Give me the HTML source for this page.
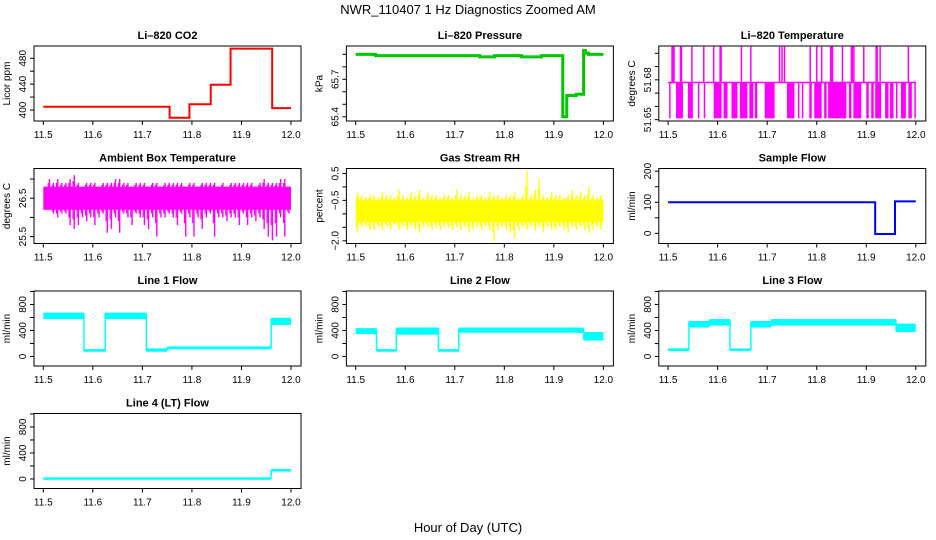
<!DOCTYPE html>
<html><head><meta charset="utf-8"><style>
html,body{margin:0;padding:0;background:#fff}
svg{display:block;font-family:"Liberation Sans",sans-serif}
</style></head><body>
<svg id="chart" width="936" height="540" viewBox="0 0 936 540" xmlns="http://www.w3.org/2000/svg">
<text x="468" y="14" text-anchor="middle" font-size="13">NWR_110407  1 Hz Diagnostics Zoomed AM</text>
<text x="468" y="532" text-anchor="middle" font-size="13">Hour of Day (UTC)</text>
</svg>
<script>
const xTicks = [11.5, 11.6, 11.7, 11.8, 11.9, 12.0];
const xTickLabels = ["11.5", "11.6", "11.7", "11.8", "11.9", "12.0"];
// CO2 steps: [start, end, value]
const co2Start = [11.5, 11.755, 11.795, 11.838, 11.878, 11.962];
const co2End = [11.755, 11.795, 11.838, 11.878, 11.962, 12.0];
const co2Val = [405, 388, 409, 439, 495, 403];
const presStart = [11.5, 11.54, 11.75, 11.78, 11.835, 11.875, 11.918, 11.926, 11.945, 11.96, 11.964, 11.97];
const presEnd = [11.54, 11.75, 11.78, 11.835, 11.875, 11.918, 11.926, 11.945, 11.96, 11.964, 11.97, 12.0];
const presVal = [65.9, 65.89, 65.88, 65.89, 65.88, 65.89, 65.4, 65.57, 65.58, 65.93, 65.91, 65.9];
const tempBase = [51.678];
const tempUp = [11.508,11.51,11.512,11.525,11.527,11.548,11.572,11.592,11.605,11.607,11.648,11.667,11.725,11.73,11.735,11.787,11.8,11.81,11.828,11.83,11.832,11.852,11.87,11.872,11.875,11.895,11.92,11.922,11.928,11.985];
const tempUpVal = [51.705];
const tempDownStart = [11.502,11.516,11.54,11.56,11.572,11.592,11.612,11.628,11.645,11.664,11.675,11.695,11.74,11.762,11.77,11.785,11.795,11.815,11.823,11.865,11.874,11.9,11.91,11.918,11.938,11.948,11.96,11.97,11.985,11.997];
const tempDownEnd = [11.504,11.53,11.55,11.562,11.573,11.608,11.62,11.64,11.66,11.672,11.68,11.715,11.755,11.765,11.772,11.79,11.81,11.82,11.86,11.87,11.89,11.905,11.915,11.93,11.945,11.955,11.962,11.98,11.992,11.999];
const tempDownVal = [51.651];
const ambCore = [26.2, 26.8];
const ambHi = [26.8,27.0,26.9,27.0,26.9,26.9,27.0,27.1,26.9,26.8,26.9,26.9,26.9,26.8,26.9,26.9,26.9,27.0,27.0,26.9,26.9,26.8,26.9,26.9,26.9,26.8,26.9,26.9,26.8,26.9,26.9,26.9,26.9,26.9,26.8,26.9,26.9,26.8,26.9,26.9,26.9,26.9,26.8,26.9,26.8,26.9,26.9,26.9,26.9,26.9,26.9,26.8,26.9,27.0,26.9,26.9,26.9,27.0,27.0,26.8];
const ambLo = [26.2,26.2,26.1,26.0,26.1,26.1,25.8,25.7,25.8,26.0,25.9,26.0,25.8,26.0,26.1,25.6,25.7,26.0,25.6,26.1,26.0,25.8,26.1,26.0,25.8,25.7,26.0,25.5,26.0,26.0,26.1,26.0,25.8,26.1,25.5,26.0,25.5,26.0,25.7,26.0,26.1,25.5,26.0,26.0,25.9,26.0,26.0,25.8,26.1,25.8,26.0,25.9,26.0,25.7,25.5,25.4,25.5,26.0,25.5,26.1];
const rhCore = [-1.3, -0.5];
const rhHi = [-0.2,-0.3,-0.4,-0.3,-0.3,-0.4,-0.2,-0.3,-0.3,-0.4,-0.1,-0.3,-0.4,-0.2,-0.3,-0.1,-0.4,-0.2,-0.3,-0.3,-0.4,-0.3,-0.3,-0.4,-0.1,-0.3,-0.3,-0.2,-0.4,-0.3,-0.3,-0.4,-0.2,-0.3,-0.3,-0.4,-0.3,-0.3,-0.2,-0.4,-0.3,0.6,-0.3,-0.1,0.3,-0.3,-0.4,-0.2,-0.3,-0.3,-0.4,-0.3,-0.1,-0.3,-0.2,-0.3,0.0,-0.3,-0.4,-0.3];
const rhLo = [-1.7,-1.5,-1.5,-1.6,-1.6,-1.5,-1.6,-1.5,-1.6,-1.4,-1.6,-1.5,-1.6,-1.5,-1.6,-1.7,-1.5,-1.5,-1.6,-1.5,-1.6,-1.5,-1.5,-1.6,-1.5,-1.6,-1.5,-1.7,-1.6,-1.5,-1.6,-1.5,-1.6,-2.0,-1.6,-1.5,-1.6,-1.7,-1.9,-1.6,-1.5,-1.6,-1.5,-1.6,-1.5,-1.7,-1.5,-1.6,-1.6,-1.5,-1.6,-1.7,-1.5,-1.6,-1.5,-1.6,-1.7,-1.6,-1.5,-1.6];
const sfStart = [11.5, 11.918, 11.958];
const sfEnd = [11.918, 11.958, 12.0];
const sfVal = [100, -2, 103];
const l1Start = [11.5, 11.582, 11.625, 11.708, 11.75, 11.96];
const l1End = [11.582, 11.625, 11.708, 11.75, 11.96, 12.0];
const l1Lo = [590, 88, 590, 88, 125, 500];
const l1Hi = [660, 98, 660, 110, 140, 580];
const l2Start = [11.5, 11.542, 11.582, 11.667, 11.708, 11.96];
const l2End = [11.542, 11.582, 11.667, 11.708, 11.96, 12.0];
const l2Lo = [360, 88, 350, 88, 380, 260];
const l2Hi = [420, 98, 430, 98, 430, 360];
const l3Start = [11.5, 11.542, 11.583, 11.625, 11.667, 11.708, 11.96];
const l3End = [11.542, 11.583, 11.625, 11.667, 11.708, 11.96, 12.0];
const l3Lo = [98, 460, 490, 98, 460, 490, 390];
const l3Hi = [110, 530, 560, 108, 530, 560, 490];
const l4Start = [11.5, 11.96];
const l4End = [11.96, 12.0];
const l4Lo = [3, 128];
const l4Hi = [10, 140];

const NS = "http://www.w3.org/2000/svg";
const svg = document.getElementById('chart');
function mk(tag, attrs, parent) {
  const e = document.createElementNS(NS, tag);
  for (const k in attrs) e.setAttribute(k, attrs[k]);
  (parent || svg).appendChild(e);
  return e;
}
function panel(col, row, name, title, ylab, ymin, ymax, yticks, ylabels) {
  const L = 34 + col * 312.4, R = 301 + col * 312.4;
  const T = 46 + row * 122.5, B = 121 + row * 122.5;
  const x0 = 43.3 + col * 312.4, x1 = 291 + col * 312.4;
  const g = mk('g', {});
  
  
  const sx = v => x0 + (v - 11.5) / 0.5 * (x1 - x0);
  const sy = v => B - (v - ymin) / (ymax - ymin) * (B - T);
  const t = mk('text', {x: (L + R) / 2, y: T - 7, 'text-anchor': 'middle', 'font-size': 11, 'font-weight': 'bold'}, g);
  
  
  t.textContent = title;
  const yl = mk('text', {x: 0, y: 0, 'text-anchor': 'middle', 'font-size': 10, transform: `translate(${L - 24},${(T + B) / 2}) rotate(-90)`}, g);
  
  
  yl.textContent = ylab;
  const xa = mk('g', {}, g);
  
  
  xTicks.forEach((v, i) => {
    mk('line', {x1: sx(v), x2: sx(v), y1: B, y2: B + 4, stroke: '#000'}, xa);
    const tl = mk('text', {x: sx(v), y: B + 17, 'text-anchor': 'middle', 'font-size': 10}, xa);
    tl.textContent = xTickLabels[i];
  });
  const ya = mk('g', {}, g);
  
  
  yticks.forEach((v, i) => {
    mk('line', {x1: L - 4, x2: L, y1: sy(v), y2: sy(v), stroke: '#000'}, ya);
    if (ylabels[i]) {
      const tl = mk('text', {x: 0, y: 0, 'text-anchor': 'middle', 'font-size': 10, transform: `translate(${L - 8},${sy(v)}) rotate(-90)`}, ya);
      tl.textContent = ylabels[i];
    }
  });
  const plot = mk('g', {}, g);
  
  
  const box = mk('rect', {x: L, y: T, width: R - L, height: B - T, fill: 'none', stroke: '#000'}, g);
  
  
  return {sx, sy, plot};
}
function steps(p, st, en, val, color, w) {
  let d = '';
  st.forEach((s, i) => {
    d += (i === 0 ? 'M' : 'L') + p.sx(s) + ',' + p.sy(val[i]) + 'L' + p.sx(en[i]) + ',' + p.sy(val[i]);
  });
  const path = mk('path', {d, fill: 'none', stroke: color, 'stroke-width': w}, p.plot);
  
  
}
function bands(p, st, en, lo, hi, color) {
  let prevY = null;
  st.forEach((s, i) => {
    const r = mk('rect', {x: p.sx(s), y: p.sy(hi[i]) - 1, width: Math.max(1, p.sx(en[i]) - p.sx(s)), height: Math.max(2, p.sy(lo[i]) - p.sy(hi[i]) + 2), fill: color}, p.plot);
    
    
    if (i > 0) {
      const ys = [p.sy(lo[i]), p.sy(hi[i]), p.sy(lo[i - 1]), p.sy(hi[i - 1])];
      mk('line', {x1: p.sx(s), x2: p.sx(s), y1: Math.min(...ys), y2: Math.max(...ys), stroke: color, 'stroke-width': 1.5}, p.plot);
    }
  });
}
function noise(p, core, hi, lo, color) {
  const n = hi.length, w = 0.5 / n;
  const c = mk('rect', {x: p.sx(11.5), y: p.sy(core[1]), width: p.sx(12) - p.sx(11.5), height: p.sy(core[0]) - p.sy(core[1]), fill: color}, p.plot);
  
  
  for (let i = 0; i < n; i++) {
    const x = p.sx(11.5 + (i + 0.5) * w);
    const ln = mk('line', {x1: x, x2: x, y1: p.sy(hi[i]), y2: p.sy(lo[i]), stroke: color, 'stroke-width': 1.4}, p.plot);
    
    
    const x2 = p.sx(11.5 + (i + 0.2) * w);
    mk('line', {x1: x2, x2: x2, y1: p.sy((hi[i] + core[1]) / 2), y2: p.sy((lo[i] + core[0]) / 2), stroke: color, 'stroke-width': 1.2}, p.plot);
  }
}

// Row 1
let p = panel(0, 0, 'co2', 'Li\u2013820 CO2', 'Licor ppm', 383, 499, [400, 420, 440, 460, 480], ['400', '', '440', '', '480']);
steps(p, co2Start, co2End, co2Val, '#ff0000', 2);
p = panel(1, 0, 'pressure', 'Li\u2013820 Pressure', 'kPa', 65.366, 65.967, [65.4, 65.5, 65.6, 65.7, 65.8, 65.9], ['65.4', '', '', '65.7', '', '']);
steps(p, presStart, presEnd, presVal, '#00c800', 3);
p = panel(2, 0, 'li820-temp', 'Li\u2013820 Temperature', 'degrees C', 51.649, 51.7055, [51.65, 51.66, 51.67, 51.68, 51.69, 51.70], ['51.65', '', '', '51.68', '', '']);
{
  const yb = p.sy(tempBase[0]);
  const bl = mk('line', {x1: p.sx(11.5), x2: p.sx(12), y1: yb, y2: yb, stroke: '#ff00ff', 'stroke-width': 1.5}, p.plot);
  
  
  tempUp.forEach(v => {
    const ln = mk('line', {x1: p.sx(v), x2: p.sx(v), y1: p.sy(tempUpVal[0]), y2: yb, stroke: '#ff00ff', 'stroke-width': 1.5}, p.plot);
    
    
  });
  tempDownStart.forEach((s, i) => {
    const r = mk('rect', {x: p.sx(s), y: yb, width: Math.max(1.5, p.sx(tempDownEnd[i]) - p.sx(s)), height: p.sy(tempDownVal[0]) - yb, fill: '#ff00ff'}, p.plot);
    
    
  });
}
// Row 2
p = panel(0, 1, 'ambient-temp', 'Ambient Box Temperature', 'degrees C', 25.32, 27.275, [25.5, 26.0, 26.5, 27.0], ['25.5', '', '26.5', '']);
noise(p, ambCore, ambHi, ambLo, '#ff00ff');
p = panel(1, 1, 'gas-rh', 'Gas Stream RH', 'percent', -2.1, 0.683, [0.5, 0, -0.5, -1.0, -1.5, -2.0], ['0.5', '', '\u22120.5', '', '', '\u22122.0']);
noise(p, rhCore, rhHi, rhLo, '#ffff00');
p = panel(2, 1, 'sample-flow', 'Sample Flow', 'ml/min', -32.7, 208.6, [0, 50, 100, 150, 200], ['0', '', '100', '', '200']);
steps(p, sfStart, sfEnd, sfVal, '#0000ff', 2);
// Row 3/4
const fT = [0, 200, 400, 600, 800, 1000], fL = ['0', '', '400', '', '800', ''];
p = panel(0, 2, 'line1-flow', 'Line 1 Flow', 'ml/min', -146.6, 1007, fT, fL);
bands(p, l1Start, l1End, l1Lo, l1Hi, '#00ffff');
p = panel(1, 2, 'line2-flow', 'Line 2 Flow', 'ml/min', -146.6, 1007, fT, fL);
bands(p, l2Start, l2End, l2Lo, l2Hi, '#00ffff');
p = panel(2, 2, 'line3-flow', 'Line 3 Flow', 'ml/min', -146.6, 1007, fT, fL);
bands(p, l3Start, l3End, l3Lo, l3Hi, '#00ffff');
p = panel(0, 3, 'line4-flow', 'Line 4 (LT) Flow', 'ml/min', -146.6, 1007, fT, fL);
bands(p, l4Start, l4End, l4Lo, l4Hi, '#00ffff');
</script>
</body></html>
